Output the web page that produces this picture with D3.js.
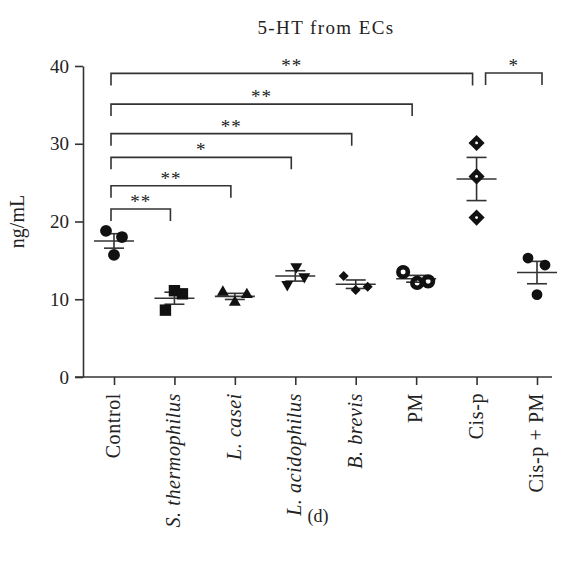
<!DOCTYPE html>
<html lang="en">
<head>
  <meta charset="UTF-8">
  <title>5-HT from ECs</title>
  <style>
    body { margin: 0; background: #fff; }
    text { font-family: "Liberation Serif", "Times New Roman", serif; fill: #222; }
  </style>
</head>
<body>
<script src="https://cdn.jsdelivr.net/npm/d3@7"></script>
<script>
  // group names, italic flag for the species names
  var categories = ['Control', 'S. thermophilus', 'L. casei', 'L. acidophilus', 'B. brevis', 'PM', 'Cis-p', 'Cis-p + PM']
  var italic = [false, true, true, true, true, false, false, false]

  // three replicates per group (ng/mL)
  var control = [18.8, 18.0, 15.7]
  var sThermophilus = [11.1, 10.7, 8.6]
  var lCasei = [10.9, 10.6, 9.6]
  var lAcidophilus = [14.2, 12.9, 11.9]
  var bBrevis = [13.0, 11.6, 11.2]
  var pm = [13.5, 12.1, 12.3]
  var cisP = [30.1, 25.8, 20.5]
  var cisPPM = [15.3, 14.4, 10.6]
  var groups = [control, sThermophilus, lCasei, lAcidophilus, bBrevis, pm, cisP, cisPPM]

  var yTicks = [0, 10, 20, 30, 40]

  // significance brackets: [from, to, height in ng/mL, label]
  var brackets = [
    ['Control', 'S. thermophilus', 21.6, '**'],
    ['Control', 'L. casei', 24.6, '**'],
    ['Control', 'L. acidophilus', 28.25, '*'],
    ['Control', 'B. brevis', 31.3, '**'],
    ['Control', 'PM', 35.1, '**'],
    ['Control', 'Cis-p', 39.05, '**'],
    ['Cis-p', 'Cis-p + PM', 39.1, '*']
  ]

  var width = 561
  var height = 567
  var plotLeft = 83, plotRight = 552, plotTop = 66, plotBottom = 377

  var svg = d3.select('body').append('svg')
    .attr('width', width)
    .attr('height', height)

  var x = d3.scalePoint().domain(categories).range([114, 537])
  var y = d3.scaleLinear().domain([0, 40]).range([plotBottom, plotTop])

  // marker per group
  var markers = [
    { type: d3.symbolCircle, size: 110 },
    { type: d3.symbolSquare, size: 130 },
    { type: d3.symbolTriangle, size: 62 },
    { type: d3.symbolTriangle, size: 62, rot: 180 },
    { type: d3.symbolSquare, size: 50, rot: 45 },
    { type: d3.symbolCircle, size: 72, ring: true },
    { type: d3.symbolSquare, size: 130, rot: 45, dot: true },
    { type: d3.symbolCircle, size: 92 }
  ]
  // horizontal scatter of the three dots
  var jitter = [[-8, 8, 0], [0, 8, -9], [-12, 12, 0], [1, 9, -8], [-12, 12, 0], [-13, 1, 12], [0, 0, 0], [-9, 8, 0]]

  // y axis
  var yAxis = d3.axisLeft(y).tickValues(yTicks).tickSize(8).tickPadding(6).tickSizeOuter(0)
  var gy = svg.append('g').attr('transform', `translate(${plotLeft},0)`).call(yAxis)
  gy.selectAll('path, line').attr('stroke', '#333').attr('stroke-width', 1.6)
  gy.selectAll('text').style('font-size', '19px').attr('fill', '#222').style('font-family', '"Liberation Serif", serif')

  // x axis
  var xAxis = d3.axisBottom(x).tickSize(8).tickSizeOuter(0).tickFormat('')
  var gx = svg.append('g').attr('transform', `translate(0,${plotBottom})`).call(xAxis)
  gx.select('.domain').remove()
  gx.selectAll('line').attr('stroke', '#333').attr('stroke-width', 1.6)
  svg.append('line')
    .attr('x1', plotLeft - 8).attr('x2', plotRight)
    .attr('y1', plotBottom).attr('y2', plotBottom)
    .attr('stroke', '#333').attr('stroke-width', 1.6)

  svg.append('g').selectAll('text')
    .data(categories)
    .enter()
    .append('text')
    .attr('transform', d => `translate(${x(d) + 6},${plotBottom + 16}) rotate(-90)`)
    .attr('text-anchor', 'end')
    .style('font-size', '20px')
    .style('letter-spacing', '0.6px')
    .style('font-style', (d, i) => italic[i] ? 'italic' : 'normal')
    .text(d => d)

  // mean and SEM
  var stats = groups.map(v => {
    var m = d3.mean(v)
    var sem = d3.deviation(v) / Math.sqrt(v.length)
    return { m: m, sem: sem }
  })
  var gs = svg.append('g').attr('stroke', '#333').attr('stroke-width', 1.6)
  stats.forEach((s, i) => {
    var cx = x(categories[i])
    gs.append('line').attr('x1', cx - 20).attr('x2', cx + 20).attr('y1', y(s.m)).attr('y2', y(s.m))
    gs.append('line').attr('x1', cx).attr('x2', cx).attr('y1', y(s.m - s.sem)).attr('y2', y(s.m + s.sem))
    gs.append('line').attr('x1', cx - 10).attr('x2', cx + 10).attr('y1', y(s.m + s.sem)).attr('y2', y(s.m + s.sem))
    gs.append('line').attr('x1', cx - 10).attr('x2', cx + 10).attr('y1', y(s.m - s.sem)).attr('y2', y(s.m - s.sem))
  })

  // points
  var gp = svg.append('g')
  groups.forEach((vals, i) => {
    var mk = markers[i]
    var sym = d3.symbol().type(mk.type).size(mk.size)
    vals.forEach((v, j) => {
      var px = x(categories[i]) + jitter[i][j]
      var py = y(v)
      var p = gp.append('path')
        .attr('d', sym)
        .attr('transform', `translate(${px},${py}) rotate(${mk.rot || 0})`)
      if (mk.ring) {
        p.attr('fill', 'none').attr('stroke', '#111').attr('stroke-width', 4.6)
      } else {
        p.attr('fill', '#111')
      }
      if (mk.dot) {
        gp.append('circle').attr('cx', px).attr('cy', py).attr('r', 1.4).attr('fill', '#fff')
      }
    })
  })

  // significance brackets
  var gb = svg.append('g')
  brackets.forEach(b => {
    var x1 = b[0] === 'Control' ? x(b[0]) - 3 : x(b[0]) + 9
    var x2 = b[0] === 'Control' ? x(b[1]) - 4 : x(b[1]) + 5
    var yb = y(b[2])
    gb.append('path')
      .attr('d', `M${x1},${yb + 12}V${yb}H${x2}V${yb + 12}`)
      .attr('fill', 'none').attr('stroke', '#333').attr('stroke-width', 1.6)
    gb.append('text')
      .attr('x', (x1 + x2) / 2).attr('y', yb - 1)
      .attr('text-anchor', 'middle')
      .style('font-size', '19px')
      .attr('fill', '#555')
      .style('letter-spacing', '1px')
      .text(b[3])
  })

  // titles
  svg.append('text')
    .attr('x', 326).attr('y', 34)
    .attr('text-anchor', 'middle')
    .style('font-size', '19px')
    .style('letter-spacing', '1.4px')
    .text('5-HT from ECs')

  svg.append('text')
    .attr('transform', `translate(24,${y(20)}) rotate(-90)`)
    .attr('text-anchor', 'middle')
    .style('font-size', '20px')
    .text('ng/mL')

  svg.append('text')
    .attr('x', 318).attr('y', 522)
    .attr('text-anchor', 'middle')
    .style('font-size', '18px')
    .text('(d)')
</script>
</body>
</html>
